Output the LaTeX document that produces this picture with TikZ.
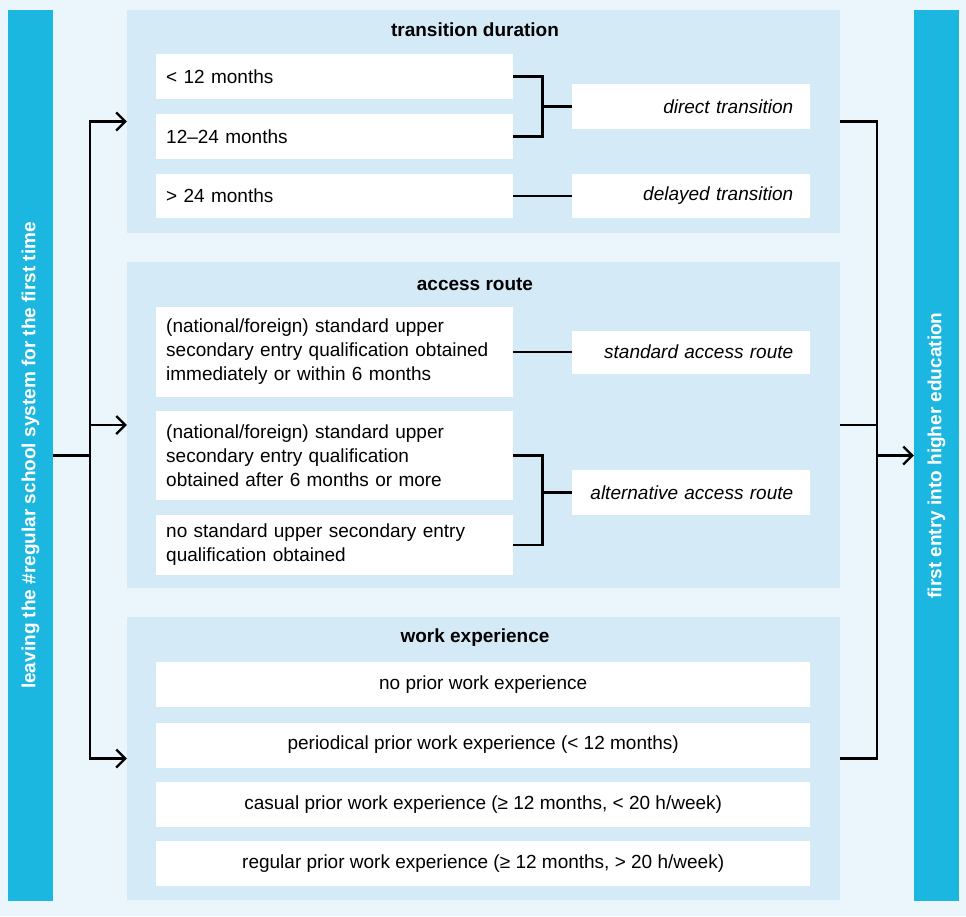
\documentclass[tikz,border=0pt]{standalone}
\usepackage{fontspec}
\setmainfont{Liberation Sans}
\usetikzlibrary{arrows.meta}
\definecolor{bgblue}{HTML}{EAF5FC}
\definecolor{panelblue}{HTML}{D4EAF7}
\definecolor{barblue}{HTML}{1BB7E0}
\newcommand{\fsize}{\fontsize{19}{24}\selectfont}
\newcommand{\lwidth}{2.2pt}

\tikzset{
  panel/.style={fill=panelblue, inner sep=0pt, minimum width=713pt},
  bar/.style={fill=barblue, inner sep=0pt, minimum width=45pt, minimum height=891pt},
  bartext/.style={rotate=90, text=white, font=\fsize\bfseries},
  ptitle/.style={font=\fsize\bfseries},
  leftbox/.style={fill=white, anchor=west, inner xsep=10pt, inner ysep=0pt, text width=337pt, align=left, font=\fsize},
  rightbox/.style={fill=white, anchor=west, inner xsep=17pt, inner ysep=0pt, text width=204pt, align=right, font=\fsize\itshape},
  widebox/.style={fill=white, anchor=west, inner sep=0pt, minimum width=654pt, minimum height=45pt, font=\fsize},
  link/.style={line width=\lwidth},
  flow/.style={line width=\lwidth, -{Straight Barb[length=9pt,width=18pt,line width=\lwidth]}}
}

\begin{document}
\begin{tikzpicture}[x=1pt, y=-1pt]
    \fill[bgblue] (0,0) rectangle (966,916);
    \useasboundingbox (0,0) rectangle (966,916);

    % side bars
    \node[bar] (lbar) at (30.5,455.5) {};
    \node[bartext] at (lbar.center) {leaving the \#regular school system for the first time};
    \node[bar] (rbar) at (936.5,455.5) {};
    \node[bartext] at (rbar.center) {first entry into higher education};

    % panels
    \node[panel, minimum height=223pt] (p1) at (483.5,121.5) {};
    \node[panel, minimum height=326pt] (p2) at (483.5,425) {};
    \node[panel, minimum height=283pt] (p3) at (483.5,758.5) {};

    % transition duration
    \node[ptitle] (t1) at (475,30) {transition duration};
    \node[leftbox, minimum height=45pt] (lt1) at (156,76.5) {< 12 months};
    \node[leftbox, minimum height=45pt] (lt2) at (156,136.5) {12--24 months};
    \node[leftbox, minimum height=44pt] (lt3) at (156,196) {> 24 months};
    \node[rightbox, minimum height=45pt] (direct) at (572,106.5) {direct transition};
    \node[rightbox, minimum height=44pt] (delayed) at (572,196) {delayed transition};
    \draw[link] (lt1.east) -- ++(29,0) |- (lt2.east);
    \draw[link] (direct.west) -- ++(-30,0);
    \draw[link] (lt3.east) -- (delayed.west);

    % access route
    \node[ptitle] (t2) at (475,284) {access route};
    \node[leftbox, minimum height=90pt] (la1) at (156,352) {(national/foreign) standard upper\\secondary entry qualification obtained\\immediately or within 6 months};
    \node[leftbox, minimum height=89pt] (la2) at (156,455.5) {(national/foreign) standard upper\\secondary entry qualification\\obtained after 6 months or more};
    \node[leftbox, minimum height=60pt] (la3) at (156,545) {no standard upper secondary entry\\qualification obtained};
    \node[rightbox, minimum height=43pt] (standard) at (572,352) {standard access route};
    \node[rightbox, minimum height=45pt] (alternative) at (572,492.5) {alternative access route};
    \draw[link] (la1.east) -- (standard.west);
    \draw[link] (la2.east) -- ++(29,0) |- (la3.east);
    \draw[link] (alternative.west) -- ++(-30,0);

    % work experience
    \node[ptitle] (t3) at (475,638) {work experience};
    \node[widebox] (w1) at (156,684.5) {no prior work experience};
    \node[widebox] (w2) at (156,745) {periodical prior work experience (< 12 months)};
    \node[widebox] (w3) at (156,804.5) {casual prior work experience (≥ 12 months, < 20 h/week)};
    \node[widebox] (w4) at (156,863.5) {regular prior work experience (≥ 12 months, > 20 h/week)};

    % flow in and out
    \draw[link] (lbar.east) -- ++(37,0) coordinate (lsplit);
    \draw[flow] (lsplit) |- (p1.west);
    \draw[flow] (lsplit) |- (p2.west);
    \draw[flow] (lsplit) |- (p3.west);
    \coordinate (rjoin) at (877,455.5);
    \draw[link] (p1.east) -| (rjoin);
    \draw[link] (p2.east) -| (rjoin);
    \draw[link] (p3.east) -| (rjoin);
    \draw[flow] (rjoin) -- (rbar.west);
\end{tikzpicture}
\end{document}
